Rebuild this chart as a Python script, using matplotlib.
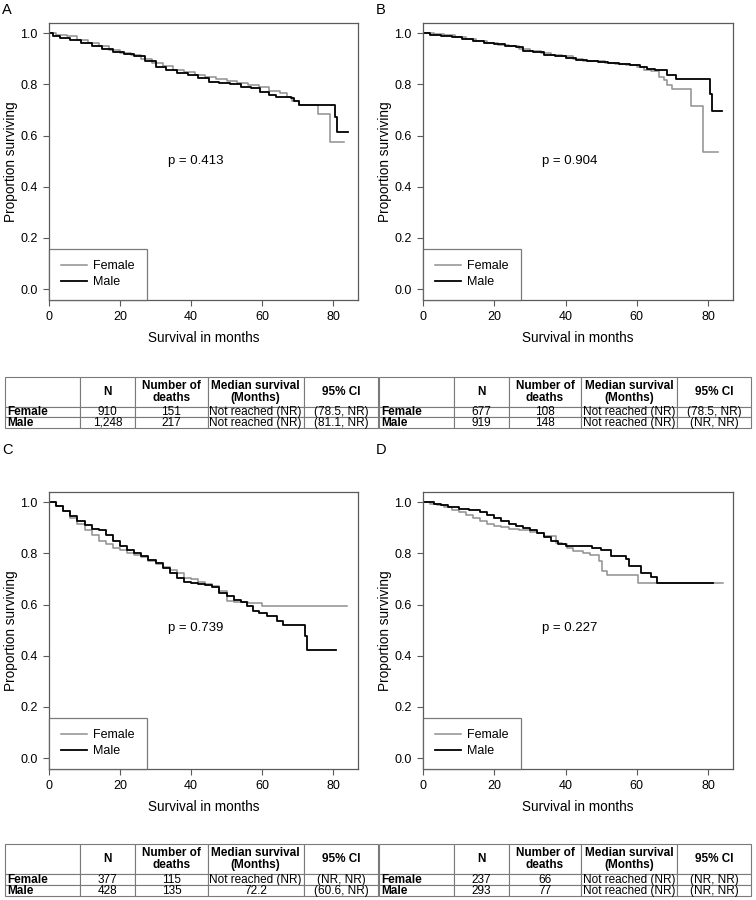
import matplotlib
matplotlib.use("Agg")
import matplotlib.pyplot as plt

plt.rcParams['font.family'] = ['Liberation Sans', 'DejaVu Sans']

# ---- Kaplan-Meier curves (months, proportion surviving) ----
a_female_t = [0, 2, 5, 8, 11, 14, 17, 20, 23, 26, 29, 32, 35, 38, 41, 44, 47, 50, 53, 56, 59, 62, 65, 67, 68.5, 70.5, 75.6, 79, 83]
a_female_s = [1.0, 0.995, 0.988, 0.975, 0.962, 0.95, 0.935, 0.923, 0.913, 0.9, 0.885, 0.87, 0.857, 0.848, 0.838, 0.83, 0.823, 0.815, 0.805, 0.797, 0.79, 0.775, 0.765, 0.752, 0.735, 0.721, 0.686, 0.573, 0.573]
a_male_t = [0, 1, 3, 6, 9, 12, 15, 18, 21, 24, 27, 30, 33, 36, 39, 42, 45, 48, 51, 54, 57, 59.4, 62, 64, 68, 69, 70.5, 80.5, 81, 84.2]
a_male_s = [1.0, 0.99, 0.982, 0.972, 0.962, 0.95, 0.937, 0.927, 0.92, 0.91, 0.893, 0.868, 0.855, 0.845, 0.835, 0.825, 0.81, 0.805, 0.8, 0.79, 0.786, 0.771, 0.76, 0.749, 0.745, 0.735, 0.721, 0.673, 0.612, 0.612]

b_female_t = [0, 3, 6, 9, 12, 15, 18, 21, 24, 27, 30, 33, 36, 39, 42, 45, 48, 51, 54, 57, 60, 62, 64, 66.3, 67.7, 68.6, 69.9, 75.2, 78.5, 82.9]
b_female_s = [1.0, 0.997, 0.993, 0.987, 0.978, 0.97, 0.962, 0.955, 0.95, 0.94, 0.93, 0.922, 0.915, 0.91, 0.9, 0.893, 0.89, 0.885, 0.88, 0.877, 0.868, 0.858, 0.852, 0.829, 0.816, 0.799, 0.783, 0.717, 0.534, 0.534]
b_male_t = [0, 2, 5, 8, 11, 14, 17, 20, 23, 26, 28, 31, 34, 37, 40, 43, 46, 49, 52, 55, 58, 61, 63, 65, 68.5, 71, 80.6, 81.2, 83.9]
b_male_s = [1.0, 0.995, 0.99, 0.985, 0.978, 0.97, 0.963, 0.958, 0.952, 0.945, 0.932, 0.925, 0.915, 0.912, 0.905, 0.895, 0.891, 0.888, 0.884, 0.878, 0.874, 0.868, 0.862, 0.856, 0.836, 0.823, 0.764, 0.697, 0.697]

c_female_t = [0, 2, 4, 6, 8, 10, 12, 14, 16, 18, 20, 22, 24, 26, 28, 30, 32, 34, 36, 38, 40, 42, 44, 46, 48, 50, 52, 56, 59.9, 83.8]
c_female_s = [1.0, 0.985, 0.965, 0.94, 0.915, 0.89, 0.87, 0.85, 0.835, 0.823, 0.812, 0.802, 0.795, 0.785, 0.772, 0.76, 0.748, 0.735, 0.722, 0.705, 0.698, 0.69, 0.682, 0.672, 0.652, 0.615, 0.608, 0.605, 0.596, 0.596]
c_male_t = [0, 2, 4, 6, 8, 10, 12, 14, 16, 18, 20, 22, 24, 26, 28, 30, 32, 34, 36, 38, 40, 42, 44, 46, 48, 50, 52, 54, 55.7, 57.5, 59, 61.3, 64.1, 65.8, 72.1, 72.6, 80.9]
c_male_s = [1.0, 0.985, 0.965, 0.945, 0.925, 0.91, 0.897, 0.89, 0.87, 0.848, 0.83, 0.815, 0.8, 0.788, 0.775, 0.762, 0.742, 0.725, 0.705, 0.69, 0.683, 0.68, 0.677, 0.668, 0.645, 0.632, 0.618, 0.608, 0.595, 0.574, 0.567, 0.554, 0.537, 0.519, 0.477, 0.424, 0.424]

d_female_t = [0, 2, 4, 6, 8, 10, 12, 14, 16, 18, 20, 22, 24, 27, 30, 32, 34, 37.2, 39, 40.5, 42, 45, 47, 49.4, 50.3, 51.7, 60.2, 84.1]
d_female_s = [1.0, 0.995, 0.99, 0.98, 0.97, 0.96, 0.95, 0.938, 0.928, 0.915, 0.908, 0.902, 0.897, 0.89, 0.885, 0.878, 0.868, 0.842, 0.835, 0.82, 0.81, 0.8, 0.795, 0.769, 0.73, 0.715, 0.685, 0.685]
d_male_t = [0, 3, 5, 7, 10, 13, 16, 18, 20, 22, 24, 26, 28, 30, 32, 34, 36, 38, 40, 45, 47.5, 50, 52.7, 56.9, 57.8, 61.1, 63.9, 65.8, 81.3]
d_male_s = [1.0, 0.995, 0.99, 0.98, 0.975, 0.97, 0.96, 0.95, 0.94, 0.925, 0.915, 0.908, 0.9, 0.89, 0.88, 0.865, 0.85, 0.835, 0.83, 0.828, 0.82, 0.815, 0.789, 0.78, 0.749, 0.725, 0.706, 0.685, 0.685]

panel_letters = ['A', 'B', 'C', 'D']
p_values = ['p = 0.413', 'p = 0.904', 'p = 0.739', 'p = 0.227']

# ---- summary tables ----
col_labels = ['', 'N', 'Number of\ndeaths', 'Median survival\n(Months)', '95% CI']
groups = ['Female', 'Male']
a_n = ['910', '1,248']
a_deaths = ['151', '217']
a_median = ['Not reached (NR)', 'Not reached (NR)']
a_ci = ['(78.5, NR)', '(81.1, NR)']
b_n = ['677', '919']
b_deaths = ['108', '148']
b_median = ['Not reached (NR)', 'Not reached (NR)']
b_ci = ['(78.5, NR)', '(NR, NR)']
c_n = ['377', '428']
c_deaths = ['115', '135']
c_median = ['Not reached (NR)', '72.2']
c_ci = ['(NR, NR)', '(60.6, NR)']
d_n = ['237', '293']
d_deaths = ['66', '77']
d_median = ['Not reached (NR)', 'Not reached (NR)']
d_ci = ['(NR, NR)', '(NR, NR)']

female_col = '#8f8f8f'
male_col = 'black'
frame_col = '#5a5a5a'
W, H = 756, 900

fig = plt.figure(figsize=(7.56, 9), dpi=100)

curves = [(a_female_t, a_female_s, a_male_t, a_male_s),
          (b_female_t, b_female_s, b_male_t, b_male_s),
          (c_female_t, c_female_s, c_male_t, c_male_s),
          (d_female_t, d_female_s, d_male_t, d_male_s)]
# axes boxes in pixels: left, top, right, bottom
boxes = [(49, 23, 358, 300), (423, 23, 733, 300), (49, 492, 358, 769), (423, 492, 733, 769)]
letter_pos = [(2, 10), (376, 10), (2, 450), (376, 450)]

for i, (ft, fs, mt, ms) in enumerate(curves):
    l, t, r, b = boxes[i]
    ax = fig.add_axes([l / W, (H - b) / H, (r - l) / W, (b - t) / H])
    ax.step(ft, fs, where='post', color=female_col, lw=1.1, label='Female')
    ax.step(mt, ms, where='post', color=male_col, lw=1.3, label='Male')
    ax.set_xlim(0, 87)
    ax.set_ylim(-0.043, 1.04)
    ax.set_xticks([0, 20, 40, 60, 80])
    ax.set_yticks([0.0, 0.2, 0.4, 0.6, 0.8, 1.0])
    ax.set_yticklabels(['0.0', '0.2', '0.4', '0.6', '0.8', '1.0'])
    for sp in ax.spines.values():
        sp.set_color(frame_col)
        sp.set_linewidth(0.9)
    ax.tick_params(direction='out', length=4.5, width=0.8, color=frame_col,
                   labelsize=9, pad=3.5)
    ax.set_xlabel('Survival in months', fontsize=9.8, labelpad=6)
    ax.set_ylabel('Proportion surviving', fontsize=9.8, labelpad=1.5)
    ax.text(33.4, 0.5 if i < 2 else 0.51, p_values[i], fontsize=9.5, va='center', ha='left')
    leg = ax.legend(loc='lower left', bbox_to_anchor=(0, 0), borderaxespad=0,
                    fancybox=False, fontsize=9, handlelength=2.1, handletextpad=0.5,
                    borderpad=0.95, labelspacing=0.3)
    leg.get_frame().set_edgecolor(frame_col)
    leg.get_frame().set_linewidth(0.9)
    fig.text(letter_pos[i][0] / W, 1 - letter_pos[i][1] / H, panel_letters[i],
             fontsize=10.5, va='center', ha='left')

tables = [(a_n, a_deaths, a_median, a_ci), (b_n, b_deaths, b_median, b_ci),
          (c_n, c_deaths, c_median, c_ci), (d_n, d_deaths, d_median, d_ci)]
# table boxes in pixels: left, top, right, bottom
tboxes = [(5, 377, 378, 428), (379, 377, 751, 428), (5, 844, 378, 896), (379, 844, 751, 896)]
col_w = [75, 55, 72, 96, 74]

for i, (n, deaths, median, ci) in enumerate(tables):
    l, t, r, b = tboxes[i]
    tax = fig.add_axes([0, 0, 1, 1])
    tax.set_axis_off()
    rows = [[groups[k], n[k], deaths[k], median[k], ci[k]] for k in range(2)]
    tb = tax.table(cellText=rows, colLabels=col_labels, colWidths=[w / sum(col_w) for w in col_w],
                   cellLoc='center', bbox=[l / W, 1 - b / H, (r - l) / W, (b - t) / H])
    tb.auto_set_font_size(False)
    tb.set_fontsize(8.5)
    for (ri, ci_), cell in tb.get_celld().items():
        cell.set_edgecolor('#7a7a7a')
        cell.set_linewidth(0.8)
        cell.set_height(2.8 if ri == 0 else 1.0)
        txt = cell.get_text()
        if ri == 0:
            txt.set_fontweight('bold')
            txt.set_linespacing(1.0)
        if ci_ == 0 and ri > 0:
            txt.set_fontweight('bold')
            txt.set_ha('left')
            cell._loc = 'left'
            cell.PAD = 0.03

fig.savefig('out.png', dpi=100)
